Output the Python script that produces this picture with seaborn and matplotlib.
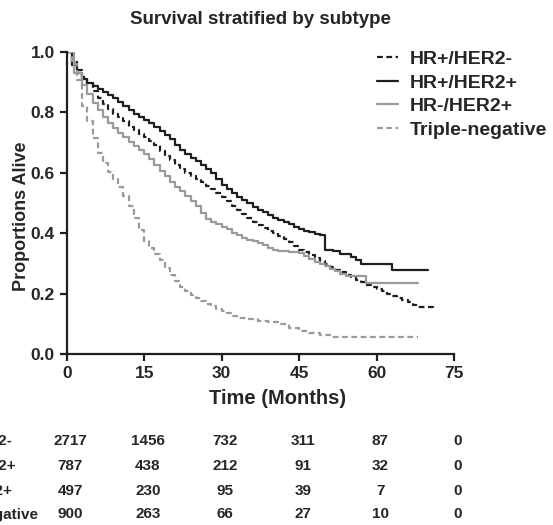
import numpy as np
import pandas as pd
import matplotlib
matplotlib.use("Agg")
import matplotlib.pyplot as plt
import seaborn as sns
from matplotlib.lines import Line2D

# Kaplan-Meier step points (months, proportion alive)
t_hrp_her2n = [0, 1, 2, 3, 4, 5, 6, 7, 8, 9, 10, 11, 12, 13, 14, 15, 16, 17, 18, 19,
               20, 21, 22, 23, 24, 25, 26, 27, 28, 29, 30, 31, 32, 33, 34, 35, 36, 37,
               38, 39, 40, 41, 42, 43, 44, 45, 46, 47, 48, 49, 50, 51, 52, 53, 54, 55,
               56, 57, 58, 59, 60, 61, 62, 63, 64, 65, 66, 67, 68, 71]
s_hrp_her2n = [1.0, 0.965, 0.94, 0.915, 0.895, 0.87, 0.845, 0.825, 0.81, 0.795, 0.782,
               0.77, 0.752, 0.74, 0.728, 0.718, 0.705, 0.69, 0.672, 0.655, 0.64, 0.625,
               0.612, 0.60, 0.588, 0.577, 0.567, 0.556, 0.545, 0.533, 0.52, 0.505, 0.49,
               0.475, 0.462, 0.45, 0.438, 0.427, 0.417, 0.408, 0.40, 0.39, 0.38, 0.37,
               0.358, 0.345, 0.337, 0.328, 0.318, 0.308, 0.298, 0.287, 0.278, 0.27,
               0.262, 0.254, 0.246, 0.238, 0.228, 0.222, 0.215, 0.208, 0.20, 0.193,
               0.186, 0.18, 0.172, 0.162, 0.155, 0.153]

t_hrp_her2p = [0, 1, 2, 3, 4, 5, 6, 7, 8, 9, 10, 11, 12, 13, 14, 15, 16, 17, 18, 19,
               20, 21, 22, 23, 24, 25, 26, 27, 28, 29, 30, 31, 32, 33, 34, 35, 36, 37,
               38, 39, 40, 41, 42, 43, 44, 45, 46, 47, 48, 49, 50, 51.5, 53, 55, 56,
               57, 63, 70]
s_hrp_her2p = [1.0, 0.955, 0.93, 0.91, 0.895, 0.885, 0.875, 0.865, 0.857, 0.845, 0.833,
               0.82, 0.805, 0.792, 0.782, 0.772, 0.762, 0.75, 0.737, 0.725, 0.71, 0.69,
               0.673, 0.66, 0.648, 0.637, 0.625, 0.61, 0.597, 0.58, 0.56, 0.545, 0.532,
               0.52, 0.509, 0.498, 0.487, 0.477, 0.468, 0.458, 0.45, 0.443, 0.436,
               0.429, 0.42, 0.413, 0.407, 0.403, 0.398, 0.394, 0.345, 0.34, 0.33,
               0.32, 0.31, 0.298, 0.278, 0.278]

t_hrn_her2p = [0, 1.5, 3, 4, 5, 6, 7, 8, 9, 10, 11, 12, 13, 14, 15, 16, 17, 18, 19, 20,
               21, 22, 23, 24, 25, 26, 27, 28, 29, 30, 31, 32, 33, 34, 35, 36, 37, 38,
               39, 40, 41, 43, 45, 46, 47, 48, 49, 50, 51, 52, 53, 54, 58, 68]
s_hrn_her2p = [1.0, 0.93, 0.89, 0.86, 0.83, 0.805, 0.785, 0.765, 0.748, 0.732, 0.717,
               0.702, 0.688, 0.674, 0.66, 0.643, 0.625, 0.606, 0.588, 0.57, 0.553,
               0.538, 0.522, 0.505, 0.49, 0.465, 0.445, 0.438, 0.43, 0.42, 0.412, 0.40,
               0.392, 0.385, 0.378, 0.372, 0.366, 0.36, 0.35, 0.345, 0.342, 0.338,
               0.333, 0.325, 0.315, 0.305, 0.298, 0.29, 0.282, 0.273, 0.265, 0.258,
               0.234, 0.234]

t_tneg = [0, 1, 2, 3, 4, 5, 6, 7, 8, 9, 10, 11, 12, 13, 14, 15, 16, 17, 18, 19, 20,
          21, 22, 23, 24, 25, 26, 27, 28, 29, 30, 31, 32, 33, 35, 37, 39, 41, 43, 45,
          47, 49, 51, 68]
s_tneg = [1.0, 0.96, 0.905, 0.82, 0.77, 0.715, 0.665, 0.632, 0.603, 0.578, 0.552, 0.522,
          0.49, 0.45, 0.41, 0.375, 0.35, 0.33, 0.31, 0.285, 0.262, 0.24, 0.222, 0.208,
          0.196, 0.186, 0.176, 0.165, 0.158, 0.15, 0.142, 0.134, 0.127, 0.12, 0.115,
          0.11, 0.107, 0.10, 0.085, 0.077, 0.068, 0.062, 0.057, 0.057]

groups = ["HR+/HER2-", "HR+/HER2+", "HR-/HER2+", "Triple-negative"]
risk_times = [0, 15, 30, 45, 60, 75]
at_risk = {
    "HR+/HER2-": [2717, 1456, 732, 311, 87, 0],
    "HR+/HER2+": [787, 438, 212, 91, 32, 0],
    "HR-/HER2+": [497, 230, 95, 39, 7, 0],
    "Triple-negative": [900, 263, 66, 27, 10, 0],
}

curves = {
    "HR+/HER2-": (t_hrp_her2n, s_hrp_her2n),
    "HR+/HER2+": (t_hrp_her2p, s_hrp_her2p),
    "HR-/HER2+": (t_hrn_her2p, s_hrn_her2p),
    "Triple-negative": (t_tneg, s_tneg),
}

black = "#1e1e1e"
grey = "#9a9a9a"
colors = {"HR+/HER2-": black, "HR+/HER2+": black,
          "HR-/HER2+": grey, "Triple-negative": grey}
dashed = (0, (2.6, 1.6))
styles = {"HR+/HER2-": dashed, "HR+/HER2+": "-",
          "HR-/HER2+": "-", "Triple-negative": dashed}

sns.set_style("ticks")
plt.rcParams["font.family"] = ["Liberation Sans", "DejaVu Sans"]
plt.rcParams["font.weight"] = "bold"

fig = plt.figure(figsize=(5.53, 5.25), dpi=100)
ax = fig.add_axes([0.1206, 0.3257, 0.7004, 0.5762])

for g in groups:
    t, s = curves[g]
    df = pd.DataFrame({"time": t, "surv": s})
    sns.lineplot(data=df, x="time", y="surv", ax=ax, estimator=None,
                 drawstyle="steps-post", color=colors[g], linestyle=styles[g],
                 linewidth=1.6)

ax.set_xlim(0, 75)
ax.set_ylim(0, 1.0)
ax.set_xticks([0, 15, 30, 45, 60, 75])
ax.set_yticks([0.0, 0.2, 0.4, 0.6, 0.8, 1.0])
ax.set_yticklabels(["0.0", "0.2", "0.4", "0.6", "0.8", "1.0"])
ax.margins(0)
for side in ["top", "right"]:
    ax.spines[side].set_visible(False)
for side in ["left", "bottom"]:
    ax.spines[side].set_linewidth(1.6)
    ax.spines[side].set_color("#1e1e1e")
ax.tick_params(width=1.6, length=5, labelsize=12.5, color="#1e1e1e")
for lab in ax.get_xticklabels() + ax.get_yticklabels():
    lab.set_fontweight("bold")
ax.set_xlabel("Time (Months)", fontsize=14.5, fontweight="bold")
ax.set_ylabel("Proportions Alive", fontsize=13, fontweight="bold")
ax.xaxis.set_label_coords(0.545, -0.115)
ax.yaxis.set_label_coords(-0.095, 0.455)
ax.set_title("Survival stratified by subtype", fontsize=13.5, fontweight="bold", pad=20)

handles = [Line2D([], [], color=colors[g], linestyle=styles[g], linewidth=1.6)
           for g in groups]
fig.legend(handles, groups, loc="upper left", bbox_to_anchor=(0.65, 0.937),
           frameon=False, handlelength=1.1, handletextpad=0.6, labelspacing=0.3,
           prop={"size": 14, "weight": "bold"})

# number-at-risk table
row_y = [0.160, 0.113, 0.065, 0.020]
for g, y in zip(groups, row_y):
    fig.text(-0.125, y, g, fontsize=11, fontweight="bold", ha="left", va="center")
    for tt, n in zip(risk_times, at_risk[g]):
        xf = ax.transData.transform((tt + 0.7, 0))[0] / fig.bbox.width
        fig.text(xf, y, str(n), fontsize=11, fontweight="bold",
                 ha="center", va="center")

fig.savefig("out.png", dpi=100)
